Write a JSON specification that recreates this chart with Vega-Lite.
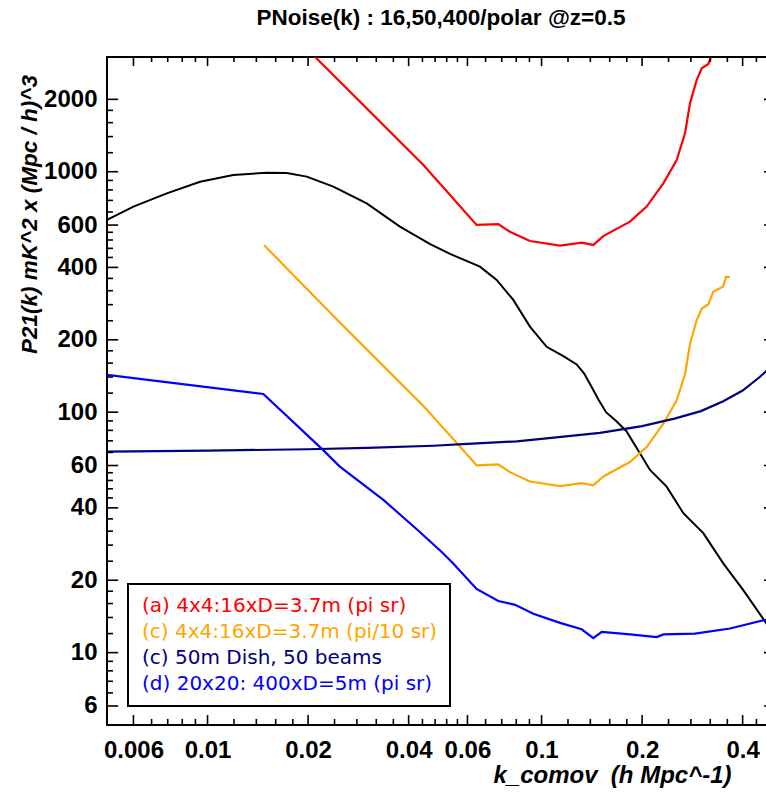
{
  "$schema": "https://vega.github.io/schema/vega-lite/v6.json",
  "width": 668,
  "height": 668,
  "autosize": {"type": "none"},
  "padding": {"left": 107, "top": 57, "right": 0, "bottom": 73},
  "title": {"text": "PNoise(k) : 16,50,400/polar @z=0.5", "font": "Liberation Sans", "fontSize": 22.5, "fontWeight": "bold", "color": "black", "anchor": "middle", "offset": 28},
  "datasets": {
    "curves": [
      {"s": "signal", "k": 0.005, "p": 630},
      {"s": "signal", "k": 0.006, "p": 716},
      {"s": "signal", "k": 0.00755, "p": 813},
      {"s": "signal", "k": 0.0095, "p": 909},
      {"s": "signal", "k": 0.01194, "p": 970},
      {"s": "signal", "k": 0.01503, "p": 991},
      {"s": "signal", "k": 0.01726, "p": 988},
      {"s": "signal", "k": 0.01982, "p": 954},
      {"s": "signal", "k": 0.0238, "p": 867},
      {"s": "signal", "k": 0.02996, "p": 739},
      {"s": "signal", "k": 0.03767, "p": 591},
      {"s": "signal", "k": 0.0464, "p": 500},
      {"s": "signal", "k": 0.0532, "p": 455},
      {"s": "signal", "k": 0.0654, "p": 403},
      {"s": "signal", "k": 0.0734, "p": 355},
      {"s": "signal", "k": 0.0823, "p": 293},
      {"s": "signal", "k": 0.0923, "p": 227},
      {"s": "signal", "k": 0.1036, "p": 187},
      {"s": "signal", "k": 0.1162, "p": 171},
      {"s": "signal", "k": 0.1274, "p": 158},
      {"s": "signal", "k": 0.134, "p": 145},
      {"s": "signal", "k": 0.141, "p": 128},
      {"s": "signal", "k": 0.148, "p": 113},
      {"s": "signal", "k": 0.156, "p": 100},
      {"s": "signal", "k": 0.1679, "p": 91.4},
      {"s": "signal", "k": 0.1799, "p": 83},
      {"s": "signal", "k": 0.197, "p": 67.5},
      {"s": "signal", "k": 0.2112, "p": 57.5},
      {"s": "signal", "k": 0.2369, "p": 49},
      {"s": "signal", "k": 0.2658, "p": 38},
      {"s": "signal", "k": 0.305, "p": 31.4},
      {"s": "signal", "k": 0.35, "p": 23.5},
      {"s": "signal", "k": 0.4018, "p": 18.2},
      {"s": "signal", "k": 0.47, "p": 13.3},
      {"s": "signal", "k": 0.5, "p": 11.9},

      {"s": "(a) 4x4:16xD=3.7m (pi sr)", "k": 0.01476, "p": 4890},
      {"s": "(a) 4x4:16xD=3.7m (pi sr)", "k": 0.021, "p": 3000},
      {"s": "(a) 4x4:16xD=3.7m (pi sr)", "k": 0.0443, "p": 1067},
      {"s": "(a) 4x4:16xD=3.7m (pi sr)", "k": 0.057, "p": 719},
      {"s": "(a) 4x4:16xD=3.7m (pi sr)", "k": 0.0639, "p": 601},
      {"s": "(a) 4x4:16xD=3.7m (pi sr)", "k": 0.0742, "p": 606},
      {"s": "(a) 4x4:16xD=3.7m (pi sr)", "k": 0.0804, "p": 563},
      {"s": "(a) 4x4:16xD=3.7m (pi sr)", "k": 0.0923, "p": 515},
      {"s": "(a) 4x4:16xD=3.7m (pi sr)", "k": 0.1136, "p": 493},
      {"s": "(a) 4x4:16xD=3.7m (pi sr)", "k": 0.1319, "p": 507},
      {"s": "(a) 4x4:16xD=3.7m (pi sr)", "k": 0.1429, "p": 496},
      {"s": "(a) 4x4:16xD=3.7m (pi sr)", "k": 0.1531, "p": 540},
      {"s": "(a) 4x4:16xD=3.7m (pi sr)", "k": 0.184, "p": 620},
      {"s": "(a) 4x4:16xD=3.7m (pi sr)", "k": 0.2064, "p": 716},
      {"s": "(a) 4x4:16xD=3.7m (pi sr)", "k": 0.2316, "p": 895},
      {"s": "(a) 4x4:16xD=3.7m (pi sr)", "k": 0.2539, "p": 1119},
      {"s": "(a) 4x4:16xD=3.7m (pi sr)", "k": 0.2689, "p": 1444},
      {"s": "(a) 4x4:16xD=3.7m (pi sr)", "k": 0.2783, "p": 1925},
      {"s": "(a) 4x4:16xD=3.7m (pi sr)", "k": 0.2914, "p": 2407},
      {"s": "(a) 4x4:16xD=3.7m (pi sr)", "k": 0.3017, "p": 2692},
      {"s": "(a) 4x4:16xD=3.7m (pi sr)", "k": 0.3158, "p": 2806},
      {"s": "(a) 4x4:16xD=3.7m (pi sr)", "k": 0.3268, "p": 3170},
      {"s": "(a) 4x4:16xD=3.7m (pi sr)", "k": 0.35, "p": 3330},
      {"s": "(a) 4x4:16xD=3.7m (pi sr)", "k": 0.3667, "p": 3640},

      {"s": "(c) 4x4:16xD=3.7m (pi/10 sr)", "k": 0.01476, "p": 495},
      {"s": "(c) 4x4:16xD=3.7m (pi/10 sr)", "k": 0.0244, "p": 243},
      {"s": "(c) 4x4:16xD=3.7m (pi/10 sr)", "k": 0.0443, "p": 106},
      {"s": "(c) 4x4:16xD=3.7m (pi/10 sr)", "k": 0.057, "p": 71.9},
      {"s": "(c) 4x4:16xD=3.7m (pi/10 sr)", "k": 0.0639, "p": 60.1},
      {"s": "(c) 4x4:16xD=3.7m (pi/10 sr)", "k": 0.0742, "p": 60.6},
      {"s": "(c) 4x4:16xD=3.7m (pi/10 sr)", "k": 0.0804, "p": 56.3},
      {"s": "(c) 4x4:16xD=3.7m (pi/10 sr)", "k": 0.0923, "p": 51.5},
      {"s": "(c) 4x4:16xD=3.7m (pi/10 sr)", "k": 0.1136, "p": 49.3},
      {"s": "(c) 4x4:16xD=3.7m (pi/10 sr)", "k": 0.1319, "p": 50.7},
      {"s": "(c) 4x4:16xD=3.7m (pi/10 sr)", "k": 0.1429, "p": 49.6},
      {"s": "(c) 4x4:16xD=3.7m (pi/10 sr)", "k": 0.1531, "p": 54},
      {"s": "(c) 4x4:16xD=3.7m (pi/10 sr)", "k": 0.184, "p": 62},
      {"s": "(c) 4x4:16xD=3.7m (pi/10 sr)", "k": 0.2064, "p": 71.6},
      {"s": "(c) 4x4:16xD=3.7m (pi/10 sr)", "k": 0.2316, "p": 89.5},
      {"s": "(c) 4x4:16xD=3.7m (pi/10 sr)", "k": 0.2539, "p": 112},
      {"s": "(c) 4x4:16xD=3.7m (pi/10 sr)", "k": 0.2689, "p": 144},
      {"s": "(c) 4x4:16xD=3.7m (pi/10 sr)", "k": 0.2783, "p": 192},
      {"s": "(c) 4x4:16xD=3.7m (pi/10 sr)", "k": 0.2914, "p": 241},
      {"s": "(c) 4x4:16xD=3.7m (pi/10 sr)", "k": 0.3017, "p": 269},
      {"s": "(c) 4x4:16xD=3.7m (pi/10 sr)", "k": 0.3158, "p": 281},
      {"s": "(c) 4x4:16xD=3.7m (pi/10 sr)", "k": 0.3268, "p": 317},
      {"s": "(c) 4x4:16xD=3.7m (pi/10 sr)", "k": 0.35, "p": 333},
      {"s": "(c) 4x4:16xD=3.7m (pi/10 sr)", "k": 0.3566, "p": 366},
      {"s": "(c) 4x4:16xD=3.7m (pi/10 sr)", "k": 0.3667, "p": 364},

      {"s": "(c) 50m Dish, 50 beams", "k": 0.005, "p": 68.5},
      {"s": "(c) 50m Dish, 50 beams", "k": 0.01, "p": 69.2},
      {"s": "(c) 50m Dish, 50 beams", "k": 0.02, "p": 70.1},
      {"s": "(c) 50m Dish, 50 beams", "k": 0.03, "p": 71},
      {"s": "(c) 50m Dish, 50 beams", "k": 0.0474, "p": 72.5},
      {"s": "(c) 50m Dish, 50 beams", "k": 0.06, "p": 73.8},
      {"s": "(c) 50m Dish, 50 beams", "k": 0.0842, "p": 75.6},
      {"s": "(c) 50m Dish, 50 beams", "k": 0.1, "p": 77.5},
      {"s": "(c) 50m Dish, 50 beams", "k": 0.1496, "p": 82},
      {"s": "(c) 50m Dish, 50 beams", "k": 0.2, "p": 87.5},
      {"s": "(c) 50m Dish, 50 beams", "k": 0.25, "p": 94},
      {"s": "(c) 50m Dish, 50 beams", "k": 0.3, "p": 101},
      {"s": "(c) 50m Dish, 50 beams", "k": 0.35, "p": 111},
      {"s": "(c) 50m Dish, 50 beams", "k": 0.4, "p": 123},
      {"s": "(c) 50m Dish, 50 beams", "k": 0.45, "p": 140},
      {"s": "(c) 50m Dish, 50 beams", "k": 0.5, "p": 160},

      {"s": "(d) 20x20: 400xD=5m (pi sr)", "k": 0.005, "p": 143},
      {"s": "(d) 20x20: 400xD=5m (pi sr)", "k": 0.01469, "p": 119},
      {"s": "(d) 20x20: 400xD=5m (pi sr)", "k": 0.0222, "p": 69.5},
      {"s": "(d) 20x20: 400xD=5m (pi sr)", "k": 0.0249, "p": 59.4},
      {"s": "(d) 20x20: 400xD=5m (pi sr)", "k": 0.0336, "p": 43.2},
      {"s": "(d) 20x20: 400xD=5m (pi sr)", "k": 0.0423, "p": 32.6},
      {"s": "(d) 20x20: 400xD=5m (pi sr)", "k": 0.0497, "p": 26.6},
      {"s": "(d) 20x20: 400xD=5m (pi sr)", "k": 0.0544, "p": 23.5},
      {"s": "(d) 20x20: 400xD=5m (pi sr)", "k": 0.0639, "p": 18.4},
      {"s": "(d) 20x20: 400xD=5m (pi sr)", "k": 0.0742, "p": 16.4},
      {"s": "(d) 20x20: 400xD=5m (pi sr)", "k": 0.0833, "p": 15.8},
      {"s": "(d) 20x20: 400xD=5m (pi sr)", "k": 0.0945, "p": 14.5},
      {"s": "(d) 20x20: 400xD=5m (pi sr)", "k": 0.1136, "p": 13.3},
      {"s": "(d) 20x20: 400xD=5m (pi sr)", "k": 0.1319, "p": 12.5},
      {"s": "(d) 20x20: 400xD=5m (pi sr)", "k": 0.1429, "p": 11.5},
      {"s": "(d) 20x20: 400xD=5m (pi sr)", "k": 0.1514, "p": 12.2},
      {"s": "(d) 20x20: 400xD=5m (pi sr)", "k": 0.184, "p": 11.9},
      {"s": "(d) 20x20: 400xD=5m (pi sr)", "k": 0.2212, "p": 11.6},
      {"s": "(d) 20x20: 400xD=5m (pi sr)", "k": 0.2316, "p": 11.9},
      {"s": "(d) 20x20: 400xD=5m (pi sr)", "k": 0.288, "p": 12},
      {"s": "(d) 20x20: 400xD=5m (pi sr)", "k": 0.3667, "p": 12.6},
      {"s": "(d) 20x20: 400xD=5m (pi sr)", "k": 0.47, "p": 13.7},
      {"s": "(d) 20x20: 400xD=5m (pi sr)", "k": 0.5, "p": 14.2}
    ],
    "ticks": [
      {"axis": "x", "v": 0.006, "kind": "major"},
      {"axis": "x", "v": 0.0068, "kind": "minor"},
      {"axis": "x", "v": 0.0076, "kind": "minor"},
      {"axis": "x", "v": 0.0084, "kind": "minor"},
      {"axis": "x", "v": 0.0092, "kind": "minor"},
      {"axis": "x", "v": 0.01, "kind": "major"},
      {"axis": "x", "v": 0.012, "kind": "minor"},
      {"axis": "x", "v": 0.014, "kind": "minor"},
      {"axis": "x", "v": 0.016, "kind": "minor"},
      {"axis": "x", "v": 0.018, "kind": "minor"},
      {"axis": "x", "v": 0.02, "kind": "major"},
      {"axis": "x", "v": 0.024, "kind": "minor"},
      {"axis": "x", "v": 0.028, "kind": "minor"},
      {"axis": "x", "v": 0.032, "kind": "minor"},
      {"axis": "x", "v": 0.036, "kind": "minor"},
      {"axis": "x", "v": 0.04, "kind": "major"},
      {"axis": "x", "v": 0.044, "kind": "minor"},
      {"axis": "x", "v": 0.048, "kind": "minor"},
      {"axis": "x", "v": 0.052, "kind": "minor"},
      {"axis": "x", "v": 0.056, "kind": "minor"},
      {"axis": "x", "v": 0.06, "kind": "major"},
      {"axis": "x", "v": 0.068, "kind": "minor"},
      {"axis": "x", "v": 0.076, "kind": "minor"},
      {"axis": "x", "v": 0.084, "kind": "minor"},
      {"axis": "x", "v": 0.092, "kind": "minor"},
      {"axis": "x", "v": 0.1, "kind": "major"},
      {"axis": "x", "v": 0.12, "kind": "minor"},
      {"axis": "x", "v": 0.14, "kind": "minor"},
      {"axis": "x", "v": 0.16, "kind": "minor"},
      {"axis": "x", "v": 0.18, "kind": "minor"},
      {"axis": "x", "v": 0.2, "kind": "major"},
      {"axis": "x", "v": 0.24, "kind": "minor"},
      {"axis": "x", "v": 0.28, "kind": "minor"},
      {"axis": "x", "v": 0.32, "kind": "minor"},
      {"axis": "x", "v": 0.36, "kind": "minor"},
      {"axis": "x", "v": 0.4, "kind": "major"},
      {"axis": "x", "v": 0.44, "kind": "minor"},
      {"axis": "x", "v": 0.48, "kind": "minor"},
      {"axis": "y", "v": 6, "kind": "major"},
      {"axis": "y", "v": 6.8, "kind": "minor"},
      {"axis": "y", "v": 7.6, "kind": "minor"},
      {"axis": "y", "v": 8.4, "kind": "minor"},
      {"axis": "y", "v": 9.2, "kind": "minor"},
      {"axis": "y", "v": 10, "kind": "major"},
      {"axis": "y", "v": 12, "kind": "minor"},
      {"axis": "y", "v": 14, "kind": "minor"},
      {"axis": "y", "v": 16, "kind": "minor"},
      {"axis": "y", "v": 18, "kind": "minor"},
      {"axis": "y", "v": 20, "kind": "major"},
      {"axis": "y", "v": 24, "kind": "minor"},
      {"axis": "y", "v": 28, "kind": "minor"},
      {"axis": "y", "v": 32, "kind": "minor"},
      {"axis": "y", "v": 36, "kind": "minor"},
      {"axis": "y", "v": 40, "kind": "major"},
      {"axis": "y", "v": 44, "kind": "minor"},
      {"axis": "y", "v": 48, "kind": "minor"},
      {"axis": "y", "v": 52, "kind": "minor"},
      {"axis": "y", "v": 56, "kind": "minor"},
      {"axis": "y", "v": 60, "kind": "major"},
      {"axis": "y", "v": 68, "kind": "minor"},
      {"axis": "y", "v": 76, "kind": "minor"},
      {"axis": "y", "v": 84, "kind": "minor"},
      {"axis": "y", "v": 92, "kind": "minor"},
      {"axis": "y", "v": 100, "kind": "major"},
      {"axis": "y", "v": 120, "kind": "minor"},
      {"axis": "y", "v": 140, "kind": "minor"},
      {"axis": "y", "v": 160, "kind": "minor"},
      {"axis": "y", "v": 180, "kind": "minor"},
      {"axis": "y", "v": 200, "kind": "major"},
      {"axis": "y", "v": 240, "kind": "minor"},
      {"axis": "y", "v": 280, "kind": "minor"},
      {"axis": "y", "v": 320, "kind": "minor"},
      {"axis": "y", "v": 360, "kind": "minor"},
      {"axis": "y", "v": 400, "kind": "major"},
      {"axis": "y", "v": 440, "kind": "minor"},
      {"axis": "y", "v": 480, "kind": "minor"},
      {"axis": "y", "v": 520, "kind": "minor"},
      {"axis": "y", "v": 560, "kind": "minor"},
      {"axis": "y", "v": 600, "kind": "major"},
      {"axis": "y", "v": 680, "kind": "minor"},
      {"axis": "y", "v": 760, "kind": "minor"},
      {"axis": "y", "v": 840, "kind": "minor"},
      {"axis": "y", "v": 920, "kind": "minor"},
      {"axis": "y", "v": 1000, "kind": "major"},
      {"axis": "y", "v": 1200, "kind": "minor"},
      {"axis": "y", "v": 1400, "kind": "minor"},
      {"axis": "y", "v": 1600, "kind": "minor"},
      {"axis": "y", "v": 1800, "kind": "minor"},
      {"axis": "y", "v": 2000, "kind": "major"}
    ]
  },
  "layer": [
    {
      "data": {"name": "curves"},
      "transform": [{"filter": "datum.s === 'signal'"}],
      "mark": {"type": "line", "color": "black", "strokeWidth": 2, "clip": true},
      "encoding": {
        "x": {
          "field": "k", "type": "quantitative",
          "scale": {"type": "log", "domain": [0.005, 0.5], "nice": false, "padding": 0},
          "axis": {
            "orient": "bottom",
            "values": [0.006, 0.01, 0.02, 0.04, 0.06, 0.1, 0.2, 0.4],
            "labelExpr": "'' + datum.value",
            "ticks": false,
            "labelPadding": 13,
            "labelOverlap": false,
            "labelFlush": false,
            "title": "k_comov \u00a0(h Mpc^-1)",
            "titleX": 505,
            "titleY": 50,
            "titleAlign": "center",
            "titleBaseline": "middle"
          }
        },
        "y": {
          "field": "p", "type": "quantitative",
          "scale": {"type": "log", "domain": [5, 3000], "nice": false, "padding": 0},
          "axis": {
            "orient": "left",
            "values": [6, 10, 20, 40, 60, 100, 200, 400, 600, 1000, 2000],
            "labelExpr": "'' + datum.value",
            "ticks": false,
            "labelPadding": 10,
            "labelOverlap": false,
            "labelFlush": false,
            "title": "P21(k) mK^2 x (Mpc / h)^3",
            "titleFontSize": 22.5,
            "titleX": -78,
            "titleY": 157,
            "titleAngle": -90,
            "titleAlign": "center",
            "titleBaseline": "middle"
          }
        }
      }
    },
    {
      "data": {"name": "curves"},
      "transform": [{"filter": "datum.s !== 'signal'"}],
      "mark": {"type": "line", "strokeWidth": 2.2, "clip": true},
      "encoding": {
        "x": {"field": "k", "type": "quantitative", "scale": {"type": "log", "domain": [0.005, 0.5], "nice": false, "padding": 0}},
        "y": {"field": "p", "type": "quantitative", "scale": {"type": "log", "domain": [5, 3000], "nice": false, "padding": 0}},
        "color": {
          "field": "s", "type": "nominal",
          "scale": {
            "domain": ["(a) 4x4:16xD=3.7m (pi sr)", "(c) 4x4:16xD=3.7m (pi/10 sr)", "(c) 50m Dish, 50 beams", "(d) 20x20: 400xD=5m (pi sr)"],
            "range": ["#ff0000", "#ffa500", "#000080", "#0000ff"]
          },
          "legend": {
            "orient": "none",
            "legendX": 21,
            "legendY": 527,
            "title": null,
            "padding": 12,
            "labelOffset": -18,
            "labelFont": "DejaVu Sans",
            "labelFontSize": 20,
            "labelLimit": 500,
            "rowPadding": 6,
            "symbolSize": 0,
            "symbolStrokeWidth": 0,
            "symbolOpacity": 0,
            "strokeColor": "black",
            "encode": {
              "legend": {"update": {"stroke": {"value": "black"}, "strokeWidth": {"value": 2}}},
              "labels": {"update": {"fill": {"scale": "color", "field": "value"}}}
            }
          }
        }
      }
    },
    {
      "data": {"name": "ticks"},
      "transform": [{"filter": "datum.axis === 'x' && datum.kind === 'major'"}],
      "mark": {"type": "bar", "color": "black", "width": 1.6},
      "encoding": {
        "x": {"field": "v", "type": "quantitative", "scale": {"type": "log", "domain": [0.005, 0.5], "nice": false, "padding": 0}},
        "y": {"datum": 5, "type": "quantitative", "scale": {"type": "log", "domain": [5, 3000], "nice": false, "padding": 0}},
        "y2": {"datum": 5.5}
      }
    },
    {
      "data": {"name": "ticks"},
      "transform": [{"filter": "datum.axis === 'x' && datum.kind === 'minor'"}],
      "mark": {"type": "bar", "color": "black", "width": 1.6},
      "encoding": {
        "x": {"field": "v", "type": "quantitative", "scale": {"type": "log", "domain": [0.005, 0.5], "nice": false, "padding": 0}},
        "y": {"datum": 5, "type": "quantitative", "scale": {"type": "log", "domain": [5, 3000], "nice": false, "padding": 0}},
        "y2": {"datum": 5.3}
      }
    },
    {
      "data": {"name": "ticks"},
      "transform": [{"filter": "datum.axis === 'x' && datum.kind === 'major'"}],
      "mark": {"type": "bar", "color": "black", "width": 1.6},
      "encoding": {
        "x": {"field": "v", "type": "quantitative", "scale": {"type": "log", "domain": [0.005, 0.5], "nice": false, "padding": 0}},
        "y": {"datum": 3000, "type": "quantitative", "scale": {"type": "log", "domain": [5, 3000], "nice": false, "padding": 0}},
        "y2": {"datum": 2750}
      }
    },
    {
      "data": {"name": "ticks"},
      "transform": [{"filter": "datum.axis === 'x' && datum.kind === 'minor'"}],
      "mark": {"type": "bar", "color": "black", "width": 1.6},
      "encoding": {
        "x": {"field": "v", "type": "quantitative", "scale": {"type": "log", "domain": [0.005, 0.5], "nice": false, "padding": 0}},
        "y": {"datum": 3000, "type": "quantitative", "scale": {"type": "log", "domain": [5, 3000], "nice": false, "padding": 0}},
        "y2": {"datum": 2860}
      }
    },
    {
      "data": {"name": "ticks"},
      "transform": [{"filter": "datum.axis === 'y' && datum.kind === 'major'"}],
      "mark": {"type": "bar", "color": "black", "height": 1.6},
      "encoding": {
        "y": {"field": "v", "type": "quantitative", "scale": {"type": "log", "domain": [5, 3000], "nice": false, "padding": 0}},
        "x": {"datum": 0.005, "type": "quantitative", "scale": {"type": "log", "domain": [0.005, 0.5], "nice": false, "padding": 0}},
        "x2": {"datum": 0.0054}
      }
    },
    {
      "data": {"name": "ticks"},
      "transform": [{"filter": "datum.axis === 'y' && datum.kind === 'minor'"}],
      "mark": {"type": "bar", "color": "black", "height": 1.6},
      "encoding": {
        "y": {"field": "v", "type": "quantitative", "scale": {"type": "log", "domain": [5, 3000], "nice": false, "padding": 0}},
        "x": {"datum": 0.005, "type": "quantitative", "scale": {"type": "log", "domain": [0.005, 0.5], "nice": false, "padding": 0}},
        "x2": {"datum": 0.00521}
      }
    },
    {
      "data": {"name": "ticks"},
      "transform": [{"filter": "datum.axis === 'y' && datum.kind === 'major'"}],
      "mark": {"type": "bar", "color": "black", "height": 1.6},
      "encoding": {
        "y": {"field": "v", "type": "quantitative", "scale": {"type": "log", "domain": [5, 3000], "nice": false, "padding": 0}},
        "x": {"datum": 0.5, "type": "quantitative", "scale": {"type": "log", "domain": [0.005, 0.5], "nice": false, "padding": 0}},
        "x2": {"datum": 0.4635}
      }
    },
    {
      "data": {"name": "ticks"},
      "transform": [{"filter": "datum.axis === 'y' && datum.kind === 'minor'"}],
      "mark": {"type": "bar", "color": "black", "height": 1.6},
      "encoding": {
        "y": {"field": "v", "type": "quantitative", "scale": {"type": "log", "domain": [5, 3000], "nice": false, "padding": 0}},
        "x": {"datum": 0.5, "type": "quantitative", "scale": {"type": "log", "domain": [0.005, 0.5], "nice": false, "padding": 0}},
        "x2": {"datum": 0.4798}
      }
    }
  ],
  "config": {
    "scale": {"continuousPadding": 0},
    "view": {"stroke": "black", "strokeWidth": 2},
    "axis": {
      "grid": false,
      "domain": false,
      "labelFont": "Liberation Sans",
      "labelFontWeight": "bold",
      "labelFontSize": 24,
      "labelColor": "black",
      "titleFont": "Liberation Sans",
      "titleFontWeight": "bold",
      "titleFontStyle": "italic",
      "titleFontSize": 24,
      "titleColor": "black"
    }
  }
}
